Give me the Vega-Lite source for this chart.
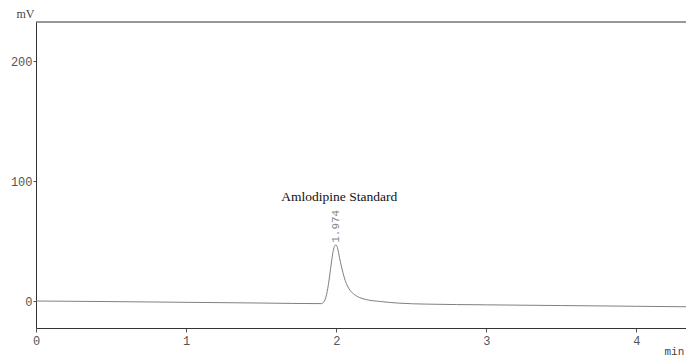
{
  "$schema": "https://vega.github.io/schema/vega-lite/v6.json",
  "width": 650,
  "height": 306,
  "autosize": "none",
  "padding": {"left": 36, "top": 22, "right": 0, "bottom": 28},
  "background": "white",
  "config": {"view": {"stroke": null}},
  "datasets": {
    "signal": [
      {"t": 0, "mV": 0},
      {"t": 0.5, "mV": -0.5},
      {"t": 1, "mV": -1.1},
      {"t": 1.5, "mV": -1.7},
      {"t": 1.9, "mV": -2.2},
      {"t": 1.92, "mV": -0.3},
      {"t": 1.94, "mV": 8},
      {"t": 1.955, "mV": 20},
      {"t": 1.97, "mV": 34},
      {"t": 1.98, "mV": 42},
      {"t": 1.99, "mV": 46},
      {"t": 1.998, "mV": 46.8},
      {"t": 2.008, "mV": 44.5},
      {"t": 2.022, "mV": 36},
      {"t": 2.035, "mV": 28.5},
      {"t": 2.045, "mV": 23.5},
      {"t": 2.06, "mV": 17},
      {"t": 2.075, "mV": 12.5},
      {"t": 2.09, "mV": 9.2},
      {"t": 2.11, "mV": 6.5},
      {"t": 2.13, "mV": 4.6},
      {"t": 2.157, "mV": 2.8},
      {"t": 2.2, "mV": 1.2},
      {"t": 2.3, "mV": -0.5},
      {"t": 2.42, "mV": -1.8},
      {"t": 2.6, "mV": -2.6},
      {"t": 3, "mV": -3.2},
      {"t": 3.5, "mV": -3.8},
      {"t": 4, "mV": -4.4},
      {"t": 4.33, "mV": -4.8}
    ],
    "notes": [
      {"t": 2.02, "mV": 87, "label": "Amlodipine Standard"}
    ],
    "peaks": [
      {"t": 2.0, "mV": 48.5, "label": "1.974"}
    ]
  },
  "layer": [
    {
      "data": {"name": "signal"},
      "mark": {"type": "line", "color": "#808080", "strokeWidth": 1, "interpolate": "monotone", "clip": true},
      "encoding": {
        "x": {
          "field": "t", "type": "quantitative",
          "scale": {"domain": [0, 4.33], "nice": false, "zero": false},
          "axis": {
            "values": [0, 1, 2, 3, 4], "format": "d",
            "title": "min", "titleAnchor": "start", "titleAlign": "left", "titleX": 628, "titleY": 17,
            "titleFont": "Liberation Mono", "titleFontSize": 11, "titleFontWeight": "normal", "titleColor": "#444",
            "grid": false, "domainColor": "#333", "tickColor": "#555", "tickSize": 4,
            "labelFont": "Liberation Mono", "labelFontSize": 12, "labelColor": "#555", "labelPadding": 3,
            "labelFlush": false
          }
        },
        "y": {
          "field": "mV", "type": "quantitative",
          "scale": {"domain": [-22.5, 232.5], "nice": false, "zero": false},
          "axis": {
            "values": [0, 100, 200],
            "title": "mV", "titleAngle": 0, "titleAlign": "right", "titleX": -2, "titleY": -2,
            "titleFont": "Liberation Serif", "titleFontSize": 12, "titleFontWeight": "normal", "titleColor": "#444",
            "grid": false, "domainColor": "#333", "tickColor": "#555", "tickSize": 3,
            "labelFont": "Liberation Mono", "labelFontSize": 12, "labelColor": "#555", "labelPadding": 1
          }
        }
      }
    },
    {
      "data": {"values": [{"top": 232.5}]},
      "mark": {"type": "rule", "color": "#333", "strokeWidth": 1},
      "encoding": {"y": {"field": "top", "type": "quantitative"}}
    },
    {
      "data": {"name": "notes"},
      "mark": {"type": "text", "font": "Liberation Serif", "fontSize": 13.5, "color": "#111", "align": "center", "baseline": "middle"},
      "encoding": {
        "x": {"field": "t", "type": "quantitative"},
        "y": {"field": "mV", "type": "quantitative"},
        "text": {"field": "label"}
      }
    },
    {
      "data": {"name": "peaks"},
      "mark": {"type": "text", "font": "Liberation Mono", "fontSize": 11, "color": "#888", "angle": 270, "align": "left", "baseline": "middle"},
      "encoding": {
        "x": {"field": "t", "type": "quantitative"},
        "y": {"field": "mV", "type": "quantitative"},
        "text": {"field": "label"}
      }
    }
  ]
}
